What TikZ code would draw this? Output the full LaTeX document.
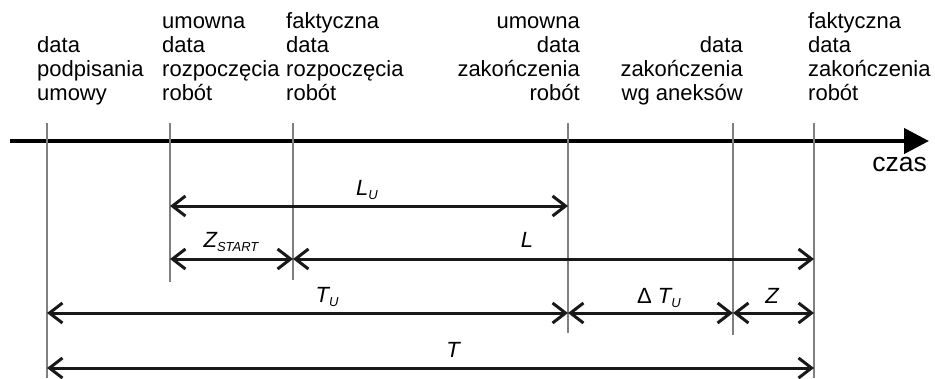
\documentclass[tikz,border=0pt]{standalone}
\usepackage{fontspec}
\setmainfont{Liberation Sans}
\usetikzlibrary{arrows.meta}
\begin{document}
\begin{tikzpicture}[x=1pt,y=-1pt,
  lbl/.style={font=\fontsize{22}{24}\selectfont, inner sep=0pt},
  var/.style={font=\fontsize{22}{24}\selectfont\itshape, inner sep=0pt, anchor=base},
  tick/.style={draw=black!50, line width=1.3pt},
  axis/.style={draw=black, line width=4.5pt, -{Triangle[length=25pt,width=25pt]}},
  span/.style={draw=black!90, line width=3pt,
    {Straight Barb[length=13pt,width=20pt]}-{Straight Barb[length=13pt,width=20pt]}}]
\newcommand{\sbs}[1]{\raisebox{-4.5pt}{\fontsize{13}{14}\selectfont #1}}
\path[use as bounding box] (0,0) rectangle (935,378);

% time axis
\coordinate (axS) at (10,141);
\coordinate (axE) at (929,141);
\draw[axis] (axS) -- (axE);
\node[lbl, font=\fontsize{26.5}{28}\selectfont, anchor=base east] (czas) at (927,171) {czas};

% event markers: top and bottom ends
\coordinate (t1) at (47,123);  \coordinate (b1) at (47,378);
\coordinate (t2) at (170,123); \coordinate (b2) at (170,282);
\coordinate (t3) at (293,123); \coordinate (b3) at (293,280);
\coordinate (t4) at (568,123); \coordinate (b4) at (568,333);
\coordinate (t5) at (733,123); \coordinate (b5) at (733,335);
\coordinate (t6) at (814,123); \coordinate (b6) at (814,378);
\foreach \i in {1,...,6} \draw[tick] (t\i) -- (b\i);

% event descriptions (anchored at the baseline of the last line)
\node[lbl, anchor=base west, align=left] (e1) at (37,100) {data\\podpisania\\umowy};
\node[lbl, anchor=base west, align=left] (e2) at (162,100) {umowna\\data\\rozpoczęcia\\robót};
\node[lbl, anchor=base west, align=left] (e3) at (286,100) {faktyczna\\data\\rozpoczęcia\\robót};
\node[lbl, anchor=base east, align=right] (e4) at (580,100) {umowna\\data\\zakończenia\\robót};
\node[lbl, anchor=base east, align=right] (e5) at (743,100) {data\\zakończenia\\wg aneksów};
\node[lbl, anchor=base west, align=left] (e6) at (808,100) {faktyczna\\data\\zakończenia\\robót};

% interval endpoints
\coordinate (lu2) at (t2 |- 0,206);  \coordinate (lu4) at (t4 |- 0,206);
\coordinate (zs2) at (t2 |- 0,259);  \coordinate (zs3) at (t3 |- 0,259);
\coordinate (l6)  at (t6 |- 0,259);
\coordinate (tu1) at (t1 |- 0,313);  \coordinate (tu4) at (t4 |- 0,313);
\coordinate (tu5) at (t5 |- 0,313);  \coordinate (tu6) at (t6 |- 0,313);
\coordinate (tt1) at (t1 |- 0,368);  \coordinate (tt6) at (t6 |- 0,368);

% intervals
\draw[span] (lu2) -- (lu4);
\draw[span] (zs2) -- (zs3);
\draw[span] (zs3) -- (l6);
\draw[span] (tu1) -- (tu4);
\draw[span] (tu4) -- (tu5);
\draw[span] (tu5) -- (tu6);
\draw[span] (tt1) -- (tt6);

% interval labels
\node[var] (nLU) at (367,195) {L\sbs{U}};
\node[var] (nZS) at (231,247) {Z\sbs{START}};
\node[var] (nL)  at (527,247) {L};
\node[var] (nTU) at (327,302) {T\sbs{U}};
\node[var] (nDT) at (659,303) {{\upshape Δ} T\sbs{U}};
\node[var] (nZ)  at (772,303) {Z};
\node[var] (nT)  at (453,357) {T};
\end{tikzpicture}
\end{document}
